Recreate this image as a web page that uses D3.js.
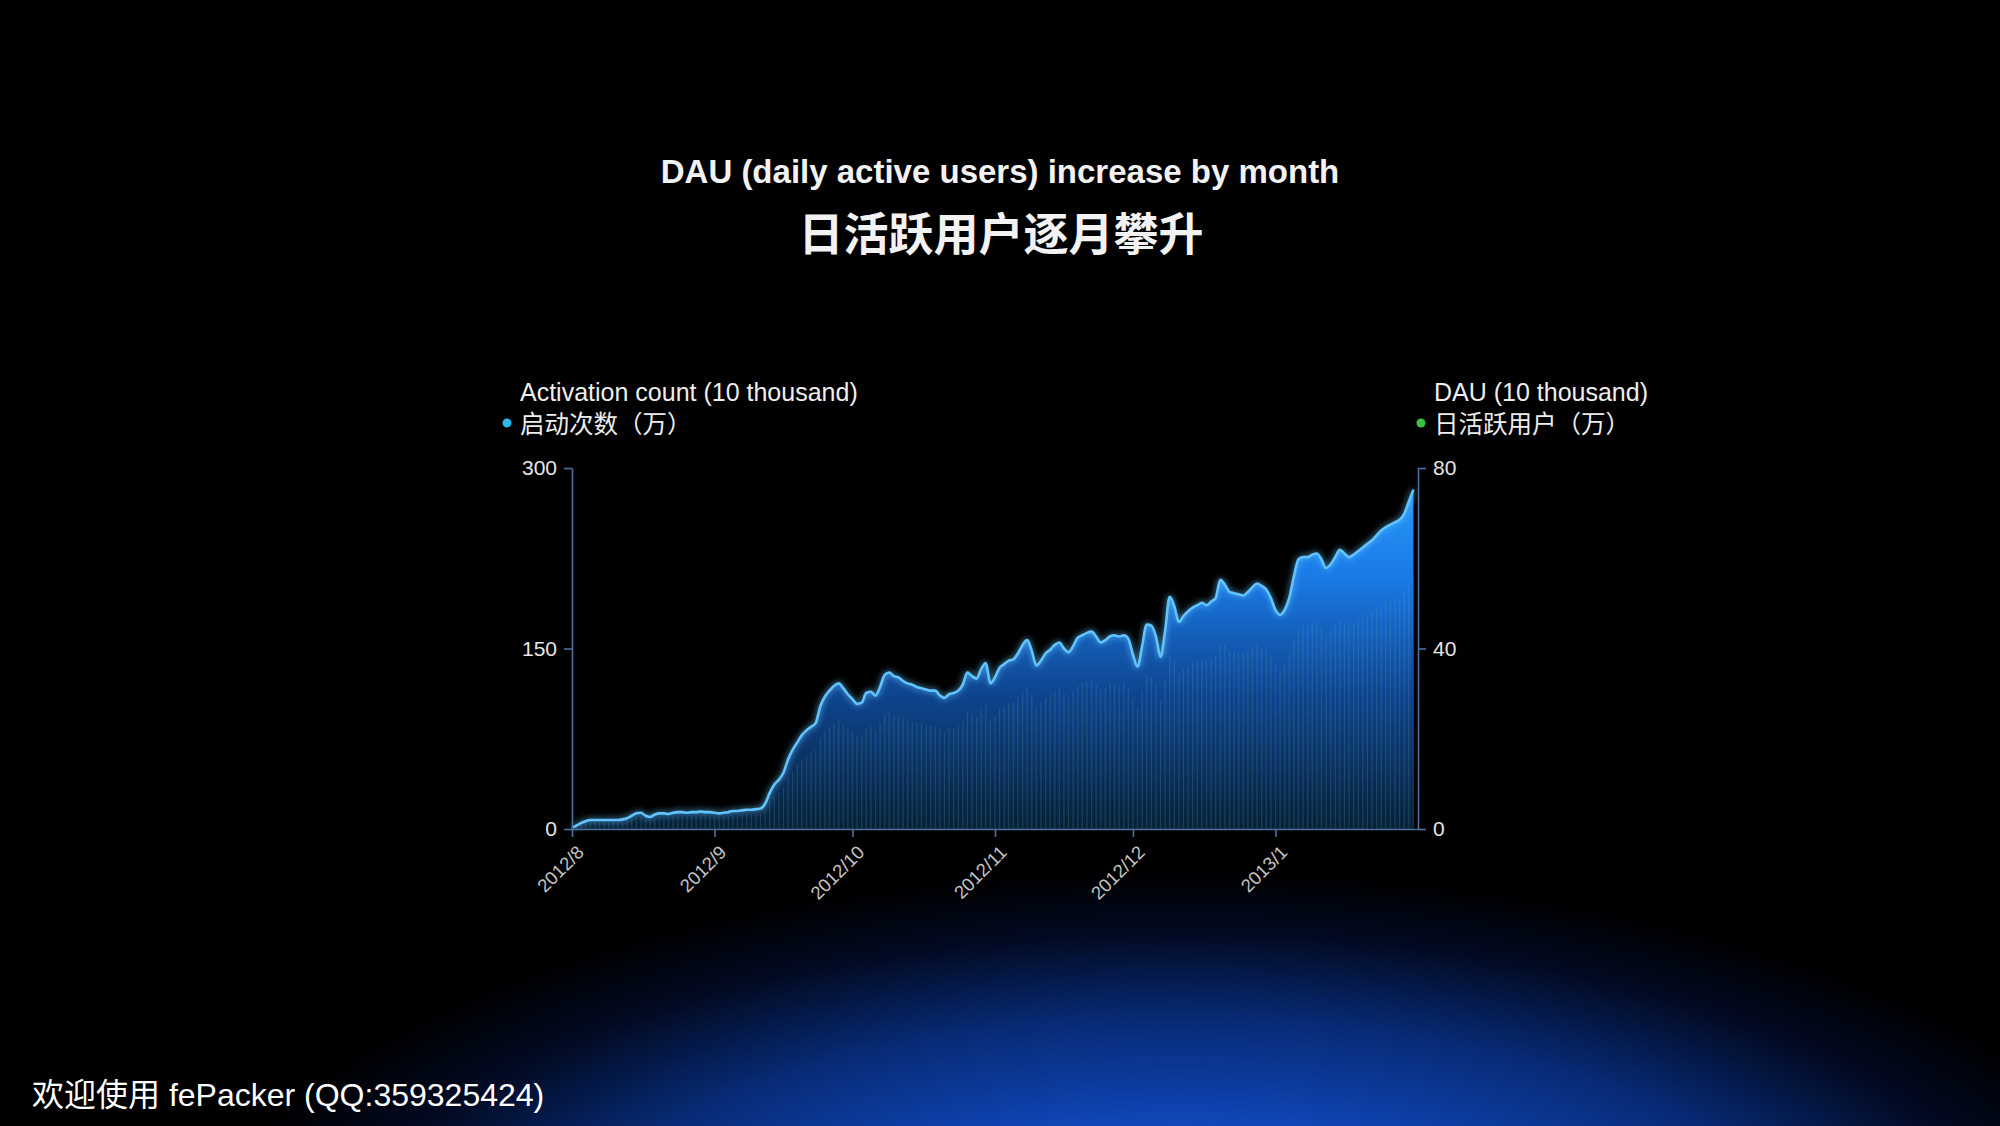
<!DOCTYPE html>
<html>
<head>
<meta charset="utf-8">
<script src="https://cdn.jsdelivr.net/npm/d3@7"></script>
<style>
html, body { margin: 0; padding: 0; background: #000; overflow: hidden; }
svg { display: block; }
text { font-family: "Liberation Sans", Arial, "Noto Sans CJK SC", sans-serif; }
</style>
</head>
<body>
<svg id="chart" width="2000" height="1126"></svg>
<script>
// daily activation count (10k), 2012/8/1 .. 2013/1/31
var activation = [
  1, 3, 5, 6.5, 7.5, 7.5, 7.5, 7.5, 7.5, 7.5, 7.5, 8, 9, 11, 13, 13.5, 11, 10, 12, 13,
  13, 12.5, 13.5, 14, 14, 13.5, 14, 14, 14.5, 14, 14, 13.5, 13, 13.5, 14, 15, 15, 15.5, 16, 16,
  16.5, 17, 21, 30, 37, 41, 47, 58, 66, 72, 78, 82, 85, 88, 102, 110, 115, 119, 121, 117,
  112, 108, 104, 105, 113, 114, 111, 118, 128, 130, 127, 126, 123, 121, 120, 118, 117, 116, 115, 115,
  111, 109, 112, 113, 115, 120, 130, 127, 125, 133, 138, 121, 126, 134, 137, 140, 141, 146, 153, 157,
  148, 136, 140, 146, 149, 153, 155, 150, 147, 152, 159, 161, 163, 164, 160, 155, 157, 160, 161, 160,
  161, 158, 145, 135, 152, 170, 169, 160, 143, 165, 193, 185, 172, 177, 181, 184, 186, 188, 186, 189,
  192, 207, 203, 197, 196, 195, 194, 197, 201, 204, 202, 199, 192, 182, 178, 182, 192, 210, 224, 226,
  226, 228, 229, 224, 217, 220, 226, 232, 229, 226, 228, 231, 234, 237, 240, 244, 248, 251, 253, 255,
  257, 262, 272, 282
];

// daily active users (10k), same days
var dau = [
  0.2, 0.6, 1, 1.3, 1.5, 1.5, 1.6, 1.5, 1.5, 1.6, 1.5, 1.6, 1.8, 2.2, 2.6, 2.7, 2.3, 2.1, 2.4, 2.6,
  2.6, 2.5, 2.7, 2.8, 2.8, 2.7, 2.8, 2.8, 2.9, 2.8, 2.8, 2.7, 2.6, 2.7, 2.8, 3, 3, 3.1, 3.2, 3.2,
  3.3, 3.4, 4.1, 5.8, 7.2, 8.1, 9.3, 11.4, 12.8, 14.2, 15.3, 16.1, 16.9, 17.4, 20.1, 21.9, 22.6, 23.4, 24.1, 23.2,
  22.1, 21.5, 20.6, 21, 22.4, 22.7, 22, 23.4, 25.3, 25.9, 25.1, 25, 24.4, 24.1, 23.7, 23.5, 23.2, 23, 22.9, 22.8,
  22.1, 21.6, 22.3, 22.4, 22.9, 23.8, 25.8, 25.3, 24.8, 26.4, 27.4, 24.1, 25, 26.7, 27.2, 27.8, 28.1, 29.3, 30.4, 31.5,
  29.8, 27.1, 28.2, 29.1, 30, 30.4, 31.2, 30.1, 29.3, 30.5, 31.6, 32.3, 32.5, 32.9, 32.1, 30.9, 31.4, 32.1, 32.3, 31.9,
  32.3, 31.5, 29, 27.1, 30.4, 34.1, 33.7, 32.1, 28.6, 33.1, 38.5, 37.1, 34.3, 35.5, 36.1, 36.9, 37.2, 37.5, 37.3, 37.7,
  38.5, 41.3, 40.7, 39.3, 39.3, 38.9, 38.9, 39.4, 40.2, 40.9, 40.3, 39.9, 38.3, 36.5, 35.5, 36.4, 38.5, 42, 44.8, 45.3,
  45.1, 45.7, 45.8, 44.8, 43.3, 44.1, 45.2, 46.3, 45.8, 45.2, 45.7, 46.2, 46.8, 47.4, 48.1, 48.7, 49.6, 50.2, 50.6, 51.1,
  51.3, 52.5, 54.3, 56.4
];

var monthLabels = ["2012/8", "2012/9", "2012/10", "2012/11", "2012/12", "2013/1"];
var leftTicks = [0, 150, 300];
var rightTicks = [0, 40, 80];

var titleEn = "DAU (daily active users) increase by month";
var titleZh = "日活跃用户逐月攀升";
var leftLegend = ["Activation count (10 thousand)", "启动次数（万）"];
var rightLegend = ["DAU (10 thousand)", "日活跃用户（万）"];
var footer = "欢迎使用 fePacker (QQ:359325424)";

var startDay = new Date(2012, 7, 1);
var endDay = new Date(2013, 1, 1);
var days = d3.timeDay.range(startDay, d3.timeDay.offset(startDay, activation.length));

var svg = d3.select("#chart");
var defs = svg.append("defs");

// background: black with a blue spotlight glow at the bottom
svg.append("rect").attr("width", 2000).attr("height", 1126).attr("fill", "#000");

var glow = defs.append("radialGradient").attr("id", "bgGlow")
  .attr("gradientUnits", "userSpaceOnUse")
  .attr("cx", 1180).attr("cy", 1290).attr("r", 1000)
  .attr("gradientTransform", "translate(1180,1290) scale(1,0.42) translate(-1180,-1290)");
glow.append("stop").attr("offset", "0%").attr("stop-color", "#1a60e8");
glow.append("stop").attr("offset", "40%").attr("stop-color", "#1046b8");
glow.append("stop").attr("offset", "65%").attr("stop-color", "#072a74");
glow.append("stop").attr("offset", "85%").attr("stop-color", "#020a22");
glow.append("stop").attr("offset", "100%").attr("stop-color", "#000");
svg.append("rect").attr("width", 2000).attr("height", 1126).attr("fill", "url(#bgGlow)");

var x = d3.scaleTime().domain([startDay, endDay]).range([572, 1418]);
var yL = d3.scaleLinear().domain([0, 300]).range([829, 468]);
var yR = d3.scaleLinear().domain([0, 80]).range([829, 468]);

// area gradient
var ag = defs.append("linearGradient").attr("id", "areaGrad")
  .attr("gradientUnits", "userSpaceOnUse")
  .attr("x1", 0).attr("y1", yL(300)).attr("x2", 0).attr("y2", yL(0));
ag.append("stop").attr("offset", "0%").attr("stop-color", "#2aa0ff");
ag.append("stop").attr("offset", "30%").attr("stop-color", "#1a7ae6");
ag.append("stop").attr("offset", "62%").attr("stop-color", "#0e4590");
ag.append("stop").attr("offset", "100%").attr("stop-color", "#06203a");

var bg = defs.append("linearGradient").attr("id", "barGrad")
  .attr("gradientUnits", "userSpaceOnUse")
  .attr("x1", 0).attr("y1", yR(80)).attr("x2", 0).attr("y2", yR(0));
bg.append("stop").attr("offset", "0%").attr("stop-color", "#a8dcff").attr("stop-opacity", 0.1);
bg.append("stop").attr("offset", "100%").attr("stop-color", "#7ad6a4").attr("stop-opacity", 0.17);

var f = defs.append("filter").attr("id", "lineGlow")
  .attr("x", "-5%").attr("y", "-20%").attr("width", "110%").attr("height", "140%");
f.append("feGaussianBlur").attr("in", "SourceGraphic").attr("stdDeviation", 3).attr("result", "b");
var fm = f.append("feMerge");
fm.append("feMergeNode").attr("in", "b");
fm.append("feMergeNode").attr("in", "SourceGraphic");

var rows = days.map(function(d, i) { return { date: d, act: activation[i], dau: dau[i] }; });

var area = d3.area()
  .x(function(d) { return x(d.date); })
  .y0(yL(0))
  .y1(function(d) { return yL(d.act); })
  .curve(d3.curveMonotoneX);

var line = d3.line()
  .x(function(d) { return x(d.date); })
  .y(function(d) { return yL(d.act); })
  .curve(d3.curveMonotoneX);

svg.append("path").datum(rows).attr("d", area).attr("fill", "url(#areaGrad)");

// DAU as thin daily bars
svg.append("g").selectAll("line").data(rows).join("line")
  .attr("x1", function(d) { return x(d.date); })
  .attr("x2", function(d) { return x(d.date); })
  .attr("y1", yR(0))
  .attr("y2", function(d) { return yR(d.dau); })
  .attr("stroke", "url(#barGrad)")
  .attr("stroke-width", 1.2);

svg.append("path").datum(rows).attr("d", line)
  .attr("fill", "none")
  .attr("stroke", "#62c4ff")
  .attr("stroke-width", 2.6)
  .attr("filter", "url(#lineGlow)");

// axes
var axisColor = "#4f6f9f";

function styleAxis(g, size) {
  g.select(".domain").attr("stroke", axisColor).attr("stroke-width", 1.6);
  g.selectAll(".tick line").attr("stroke", axisColor).attr("stroke-width", 1.6);
  g.selectAll(".tick text").attr("fill", "#e6e6e6").attr("font-size", size)
    .attr("font-family", "Liberation Sans, Arial, sans-serif");
}

var gL = svg.append("g").attr("transform", "translate(572,0)")
  .call(d3.axisLeft(yL).tickValues(leftTicks).tickSize(8).tickSizeOuter(0).tickPadding(7));
styleAxis(gL, 21);

var gR = svg.append("g").attr("transform", "translate(1418,0)")
  .call(d3.axisRight(yR).tickValues(rightTicks).tickSize(8).tickSizeOuter(0).tickPadding(7));
styleAxis(gR, 21);

var monthTicks = d3.timeMonth.range(startDay, endDay);
var gB = svg.append("g").attr("transform", "translate(0,829)")
  .call(d3.axisBottom(x).tickValues(monthTicks).tickSize(8).tickSizeOuter(0)
    .tickFormat(function(d, i) { return monthLabels[i]; }));
styleAxis(gB, 18.5);
gB.selectAll(".tick text")
  .attr("fill", "#c4c4c4")
  .attr("text-anchor", "end")
  .attr("y", 0).attr("dy", "0.35em")
  .attr("transform", "translate(8,20) rotate(-45)");

// titles
svg.append("text").attr("x", 1000).attr("y", 183).attr("text-anchor", "middle")
  .attr("fill", "#f2f2f2").attr("font-size", 33).attr("font-weight", "bold").text(titleEn);
svg.append("text").attr("x", 1001).attr("y", 251).attr("text-anchor", "middle")
  .attr("fill", "#f2f2f2").attr("font-size", 45).attr("font-weight", "bold")
  .attr("font-family", "Noto Sans CJK SC").text(titleZh);

// legends
function legend(xPos, lines, dotColor) {
  svg.append("text").attr("x", xPos).attr("y", 401).attr("fill", "#eeeeee")
    .attr("font-size", 25).text(lines[0]);
  svg.append("text").attr("x", xPos).attr("y", 433).attr("fill", "#eeeeee")
    .attr("font-size", 24.5).attr("font-family", "Noto Sans CJK SC").text(lines[1]);
  svg.append("circle").attr("cx", xPos - 13).attr("cy", 423).attr("r", 4.5).attr("fill", dotColor);
}
legend(520, leftLegend, "#2bb8ea");
legend(1434, rightLegend, "#3fbf3f");

// footer
svg.append("text").attr("x", 32).attr("y", 1106).attr("fill", "#ffffff")
  .attr("font-size", 32).text(footer);
</script>
</body>
</html>
